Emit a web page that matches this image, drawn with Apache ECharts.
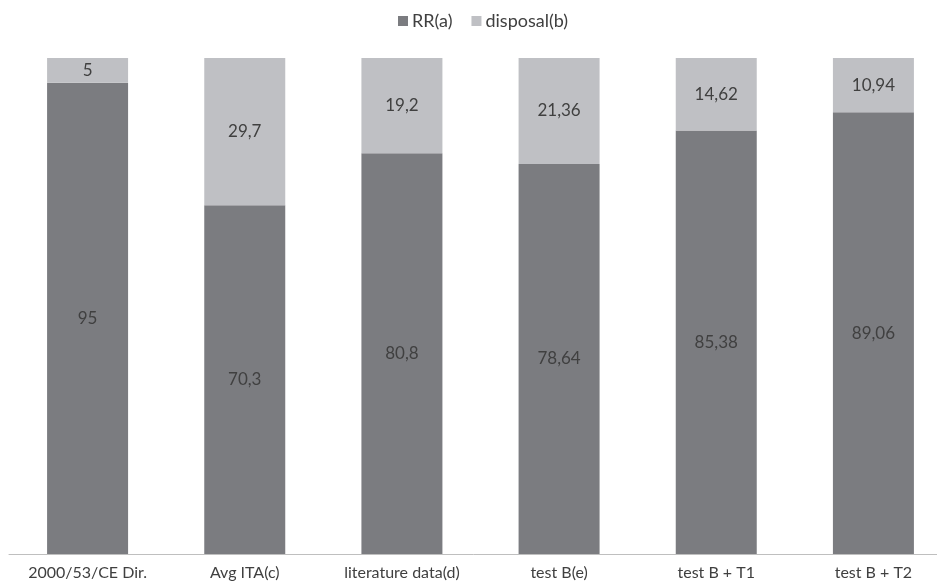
<!DOCTYPE html>
<html>
<head>
<meta charset="utf-8">
<script src="https://cdn.jsdelivr.net/npm/echarts@6/dist/echarts.min.js"></script>
<style>
  html, body { margin: 0; padding: 0; background: #ffffff; }
  #chart { width: 937px; height: 587px; }
</style>
</head>
<body>
<div id="chart"></div>
<script>
// Category labels along the x axis
const categories = ['2000/53/CE Dir.', 'Avg ITA(c)', 'literature data(d)', 'test B(e)', 'test B + T1', 'test B + T2'];
// Stacked shares (%) per category
const rrValues = [95, 70.3, 80.8, 78.64, 85.38, 89.06];
const disposalValues = [5, 29.7, 19.2, 21.36, 14.62, 10.94];
const seriesNames = ['RR(a)', 'disposal(b)'];

const FONT = 'Lato, "Open Sans", sans-serif';
const TEXT_COLOR = '#404040';

// Decimal comma, as in the printed labels
const fmt = p => String(p.value).replace('.', ',');

const chart = echarts.init(document.getElementById('chart'), null, { renderer: 'canvas' });

chart.setOption({
  animation: false,
  backgroundColor: '#ffffff',
  legend: {
    top: 12,
    left: 398,
    padding: 0,
    itemWidth: 10,
    itemHeight: 10,
    itemGap: 19,
    icon: 'rect',
    textStyle: { fontFamily: FONT, fontSize: 18, color: TEXT_COLOR, padding: [0, 0, 0, -1] },
    data: seriesNames
  },
  // the last category slot runs a little past the right edge of the canvas
  grid: { left: 9, width: 943, top: 58, bottom: 33, containLabel: false, outerBoundsMode: 'none' },
  xAxis: {
    type: 'category',
    data: categories,
    axisLine: { lineStyle: { color: '#bfbfbf', width: 1 } },
    axisTick: { show: false },
    axisLabel: { fontFamily: FONT, fontSize: 16, color: TEXT_COLOR, margin: 11, interval: 0 }
  },
  yAxis: {
    type: 'value',
    min: 0,
    max: 100,
    show: false,
    splitLine: { show: false }
  },
  series: [
    {
      name: seriesNames[0],
      type: 'bar',
      stack: 'total',
      barWidth: 81,
      data: rrValues,
      itemStyle: { color: '#7b7c80' },
      label: { show: true, position: 'inside', formatter: fmt, fontFamily: FONT, fontSize: 17, color: TEXT_COLOR }
    },
    {
      name: seriesNames[1],
      type: 'bar',
      stack: 'total',
      barWidth: 81,
      data: disposalValues,
      itemStyle: { color: '#bfc0c4' },
      label: { show: true, position: 'inside', formatter: fmt, fontFamily: FONT, fontSize: 17, color: TEXT_COLOR }
    }
  ]
});
</script>
</body>
</html>
